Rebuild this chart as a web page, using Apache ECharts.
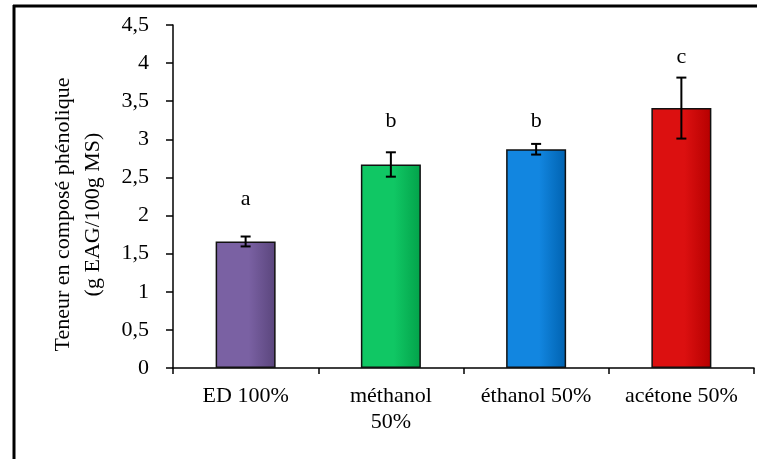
<!DOCTYPE html>
<html>
<head>
<meta charset="utf-8">
<script src="https://cdn.jsdelivr.net/npm/echarts@6/dist/echarts.min.js"></script>
<style>html,body{margin:0;padding:0;background:#fff;}#c{width:757px;height:459px;}</style>
</head>
<body>
<div id="c"></div>
<script>
var categories = ['ED 100%', 'méthanol\n50%', 'éthanol 50%', 'acétone 50%'];
var values = [1.66, 2.67, 2.87, 3.41];
var errors = [0.065, 0.16, 0.07, 0.40];
var letters = ['a', 'b', 'b', 'c'];
var letterY = [2.22, 3.24, 3.24, 4.08];
var yTicks = [0, 0.5, 1, 1.5, 2, 2.5, 3, 3.5, 4, 4.5];
var colorsLight = ['#7a61a3', '#10c764', '#1286e0', '#dc1010'];
var colorsDark = ['#5a457c', '#03a24a', '#0062b0', '#b50000'];

var font = 'Liberation Serif';
var chart = echarts.init(document.getElementById('c'), null, {renderer: 'canvas'});

var barData = values.map(function (v, i) {
  return {
    value: v,
    itemStyle: {
      color: new echarts.graphic.LinearGradient(0, 0, 1, 0, [
        {offset: 0, color: colorsLight[i]},
        {offset: 0.55, color: colorsLight[i]},
        {offset: 1, color: colorsDark[i]}
      ])
    }
  };
});

var errData = values.map(function (v, i) { return [i, v, errors[i]]; });
var letterData = letters.map(function (l, i) { return [i, letterY[i], l]; });

chart.setOption({
  animation: false,
  backgroundColor: '#fff',
  textStyle: {fontFamily: font},
  grid: {left: 173, right: 3, top: 25, bottom: 91, containLabel: false},
  graphic: [
    {type: 'line', shape: {x1: 14, y1: 5, x2: 14, y2: 459}, style: {stroke: '#000', lineWidth: 3}},
    {type: 'line', shape: {x1: 13, y1: 6, x2: 757, y2: 6}, style: {stroke: '#000', lineWidth: 3}}
  ],
  xAxis: {
    type: 'category',
    data: categories,
    axisLine: {lineStyle: {color: '#000', width: 1.5}},
    axisTick: {show: true, alignWithLabel: false, length: 6, lineStyle: {color: '#000', width: 1.5}},
    axisLabel: {color: '#000', fontFamily: font, fontSize: 22, margin: 15, lineHeight: 26, interval: 0}
  },
  yAxis: {
    type: 'value',
    min: 0, max: 4.5, interval: 0.5,
    name: 'Teneur en composé phénolique\n(g EAG/100g MS)',
    nameLocation: 'middle',
    nameGap: 65,
    nameRotate: 90,
    nameTextStyle: {color: '#000', fontFamily: font, fontSize: 22, lineHeight: 30, align: 'center', padding: [0, 36, 0, 0]},
    splitLine: {show: false},
    axisLine: {show: true, lineStyle: {color: '#000', width: 1.5}},
    axisTick: {show: true, length: 7, lineStyle: {color: '#000', width: 1.5}},
    axisLabel: {
      color: '#000', fontFamily: font, fontSize: 22, margin: 24,
      formatter: function (v) { return String(v).replace('.', ','); }
    }
  },
  series: [
    {
      type: 'bar',
      data: barData,
      barWidth: 60,
      itemStyle: {borderColor: '#111', borderWidth: 1.5}
    },
    {
      type: 'custom',
      data: errData,
      z: 5,
      renderItem: function (params, api) {
        var x = api.value(0), v = api.value(1), e = api.value(2);
        var top = api.coord([x, v + e]);
        var bot = api.coord([x, v - e]);
        var w = 5;
        var st = {stroke: '#000', lineWidth: 2};
        return {
          type: 'group',
          children: [
            {type: 'line', shape: {x1: top[0], y1: top[1], x2: bot[0], y2: bot[1]}, style: st},
            {type: 'line', shape: {x1: top[0] - w, y1: top[1], x2: top[0] + w, y2: top[1]}, style: st},
            {type: 'line', shape: {x1: bot[0] - w, y1: bot[1], x2: bot[0] + w, y2: bot[1]}, style: st}
          ]
        };
      }
    },
    {
      type: 'custom',
      data: letterData,
      z: 6,
      renderItem: function (params, api) {
        var p = api.coord([api.value(0), api.value(1)]);
        return {
          type: 'text',
          style: {
            text: letters[params.dataIndex],
            x: p[0], y: p[1],
            fill: '#000',
            font: '22px "Liberation Serif"',
            align: 'center', verticalAlign: 'middle'
          }
        };
      }
    }
  ]
});
</script>
</body>
</html>
